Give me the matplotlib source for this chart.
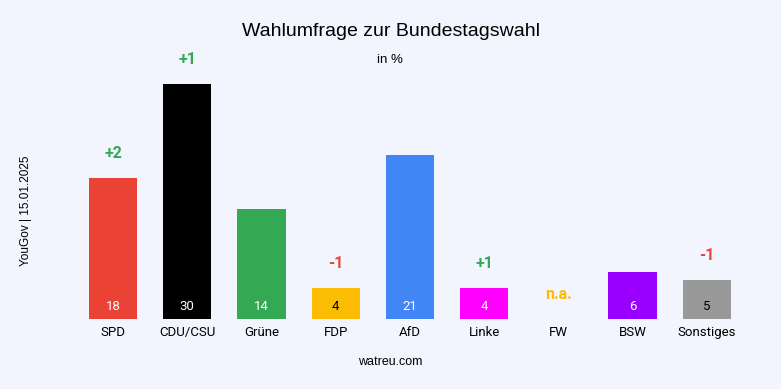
import matplotlib
matplotlib.use("Agg")
from matplotlib import pyplot as plt

parteien = ["SPD", "CDU/CSU", "Grüne", "FDP", "AfD", "Linke", "FW", "BSW", "Sonstiges"]
werte = [18, 30, 14, 4, 21, 4, None, 6, 5]
aenderungen = ["+2", "+1", "", "-1", "", "+1", "n.a.", "", "-1"]
farben = ["#ea4335", "#000000", "#34a853", "#fbbc04", "#4285f4", "#ff00ff", "#fbbc04", "#9900ff", "#999999"]
textfarben = ["white", "white", "white", "black", "white", "white", "white", "white", "black"]

hintergrund = "#f2f4fe"
gruen = "#34a853"
rot = "#ea4335"
gelb = "#fbbc04"

fig = plt.figure(figsize=(7.81, 3.89), dpi=100, facecolor=hintergrund)
ax = fig.add_axes([0.0973, 0.18, 0.855, 0.664])
ax.set_facecolor(hintergrund)

x = list(range(len(parteien)))
hoehen = [w if w is not None else 0 for w in werte]
ax.bar(x, hoehen, width=0.65, color=farben)

# Zahlen in den Balken
for i, w in enumerate(werte):
    if w is None:
        continue
    ax.text(i, 1.55, str(w), ha="center", va="center", fontsize=9.5,
            color=textfarben[i], family="Roboto")

# Veränderungen über den Balken
for i, a in enumerate(aenderungen):
    if not a:
        continue
    if a == "n.a.":
        c = gelb
    elif a.startswith("+"):
        c = gruen
    else:
        c = rot
    ax.text(i, hoehen[i] + 3.1, a, ha="center", va="center", fontsize=11.5,
            fontweight="bold", color=c, family="Roboto")

ax.set_xlim(-0.5, 8.5)
ax.set_ylim(0, 33)
ax.set_xticks(x)
ax.set_xticklabels(parteien, fontsize=9.5, family="Roboto")
ax.tick_params(axis="x", length=0, pad=5)
ax.set_yticks([])
for s in ax.spines.values():
    s.set_visible(False)

fig.text(0.5, 1 - 31 / 389, "Wahlumfrage zur Bundestagswahl", ha="center", va="center",
         fontsize=14, family="Liberation Sans")
fig.text(390 / 781, 1 - 60 / 389, "in %", ha="center", va="center", fontsize=9.5,
         family="Liberation Sans")
fig.text(26 / 781, 1 - 211 / 389, "YouGov | 15.01.2025", ha="center", va="center",
         rotation=90, fontsize=8.5, family="Liberation Sans")
fig.text(390 / 781, 1 - 362 / 389, "watreu.com", ha="center", va="center", fontsize=9,
         family="Liberation Sans")

fig.savefig("out.png", dpi=100, facecolor=hintergrund)
